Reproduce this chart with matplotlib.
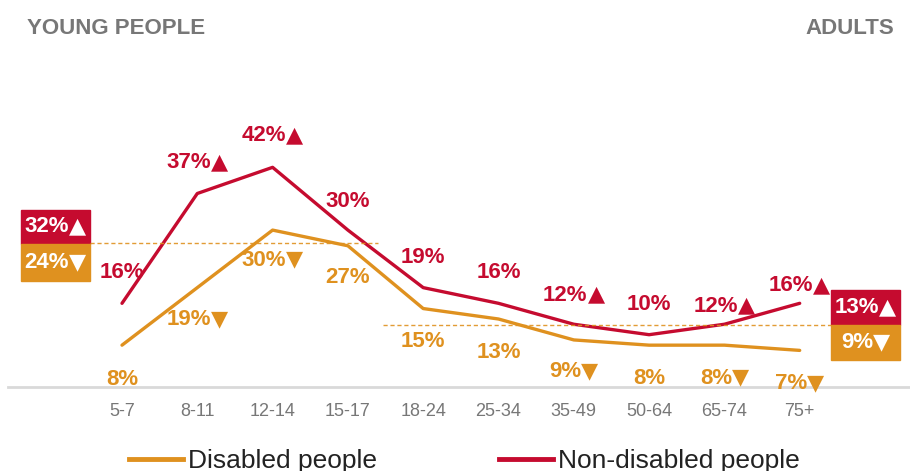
import matplotlib
matplotlib.use('Agg')
import matplotlib.pyplot as plt
import matplotlib.patches as mpatches
from matplotlib.lines import Line2D
from matplotlib.offsetbox import TextArea, HPacker, AnnotationBbox

# dados do gráfico
ages = ['5-7', '8-11', '12-14', '15-17', '18-24', '25-34', '35-49', '50-64', '65-74', '75+']
disabled = [8, 19, 30, 27, 15, 13, 9, 8, 8, 7]
non_disabled = [16, 37, 42, 30, 19, 16, 12, 10, 12, 16]
# marcadores de diferença significativa
disabled_sig = ['', '▼', '▼', '', '', '', '▼', '', '▼', '▼']
non_disabled_sig = ['', '▲', '▲', '', '', '', '▲', '', '▲', '▲']
# médias (jovens / adultos)
young_avg = {'non': (32, '▲'), 'dis': (24, '▼')}
adult_avg = {'non': (13, '▲'), 'dis': (9, '▼')}

RED = '#C50B2F'
ORANGE = '#DF911F'
GRAY = '#777777'
W, H = 910, 471

# deslocamento vertical dos rótulos (pixels)
red_off = [-31, -31, -32, -29, -30, -31, -29, -30, -18, -18]
orange_off = [34, 32, 30, 32, 33, 33, 32, 33, 33, 33]

FONT = ['Liberation Sans', 'DejaVu Sans']
LSIZE = 16

fig = plt.figure(figsize=(W / 100, H / 100), dpi=100)
ax = fig.add_axes([0, 0, 1, 1])
ax.axis('off')

# escala: categoria i -> 122 + 75.3*i px; 0% -> 387 px; 5.23 px por %
x0, dx = 122, 75.3
y0, dy = 387, 5.23
ax.set_xlim(-x0 / dx, (W - x0) / dx)
ax.set_ylim((y0 - H) / dy, y0 / dy)


def fpx(x, y):
    # pixel -> fração da figura
    return x / W, 1 - y / H


def label(xy, num, arrow, color, off_px=0, coords='data'):
    # número em Liberation Sans + triângulo em DejaVu Sans, centrados juntos
    parts = [TextArea(num, textprops=dict(color=color, fontsize=LSIZE,
                                          fontweight='bold', family='Liberation Sans'))]
    if arrow:
        parts.append(TextArea(arrow, textprops=dict(color=color, fontsize=LSIZE,
                                                    family='DejaVu Sans')))
    box = HPacker(children=parts, align='baseline', pad=0, sep=0)
    ab = AnnotationBbox(box, xy, xycoords=coords, xybox=(0, -off_px * 0.72),
                        boxcoords='offset points', frameon=False, pad=0,
                        box_alignment=(0.5, 0.5), zorder=5)
    if coords == 'data':
        ax.add_artist(ab)
    else:
        fig.add_artist(ab)


xs = list(range(len(ages)))

ax.axhline(0, xmin=8 / W, xmax=1, color='#d9d9d9', lw=2, zorder=1)

ax.plot(xs, disabled, color=ORANGE, lw=2.4, solid_capstyle='round', zorder=3)
ax.plot(xs, non_disabled, color=RED, lw=2.4, solid_capstyle='round', zorder=3)

# rótulos de valores
for i in xs:
    label((i, non_disabled[i]), f'{non_disabled[i]}%', non_disabled_sig[i], RED, red_off[i])
    label((i, disabled[i]), f'{disabled[i]}%', disabled_sig[i], ORANGE, orange_off[i])

# rótulos do eixo x
for i, lab in enumerate(ages):
    ax.text(i, -25 / dy, lab, ha='center', va='center', color=GRAY,
            fontsize=13, family=FONT)

# linhas tracejadas das médias
fig.add_artist(Line2D([90 / W, 378 / W], [1 - 243 / H] * 2, color=ORANGE, lw=1,
                      ls=(0, (3, 2)), alpha=0.9))
fig.add_artist(Line2D([383 / W, 831 / W], [1 - 325 / H] * 2, color=ORANGE, lw=1,
                      ls=(0, (3, 2)), alpha=0.9))


# caixas com as médias
def avg_box(x_left, y_top, y_mid, y_bot, avg):
    w = 69
    for (val, arrow), top, bot, col in [(avg['non'], y_top, y_mid, RED),
                                        (avg['dis'], y_mid, y_bot, ORANGE)]:
        fx, fy = fpx(x_left, bot)
        fig.add_artist(mpatches.Rectangle((fx, fy), w / W, (bot - top) / H,
                                          color=col, transform=fig.transFigure))
        label(fpx(x_left + w / 2, (top + bot) / 2), f'{val}%', arrow, 'white',
              coords='figure fraction')


avg_box(21, 210, 244, 281, young_avg)
avg_box(831, 290, 325, 360, adult_avg)

# títulos
fig.text(*fpx(27, 28), 'YOUNG PEOPLE', ha='left', va='center', color=GRAY,
         fontsize=16, fontweight='bold', family=FONT)
fig.text(*fpx(894, 28), 'ADULTS', ha='right', va='center', color=GRAY,
         fontsize=16, fontweight='bold', family=FONT)

# legenda
handles = [Line2D([], [], color=ORANGE, lw=3.5), Line2D([], [], color=RED, lw=3.5)]
fig.legend(handles, ['Disabled people', 'Non-disabled people'], ncol=2,
           loc='center left', bbox_to_anchor=fpx(129, 461), frameon=False,
           borderpad=0, borderaxespad=0, handlelength=2.05, handletextpad=0.2,
           columnspacing=4.6, prop={'family': FONT, 'size': 19}, labelcolor='#222222')

fig.savefig('out.png', dpi=100)
